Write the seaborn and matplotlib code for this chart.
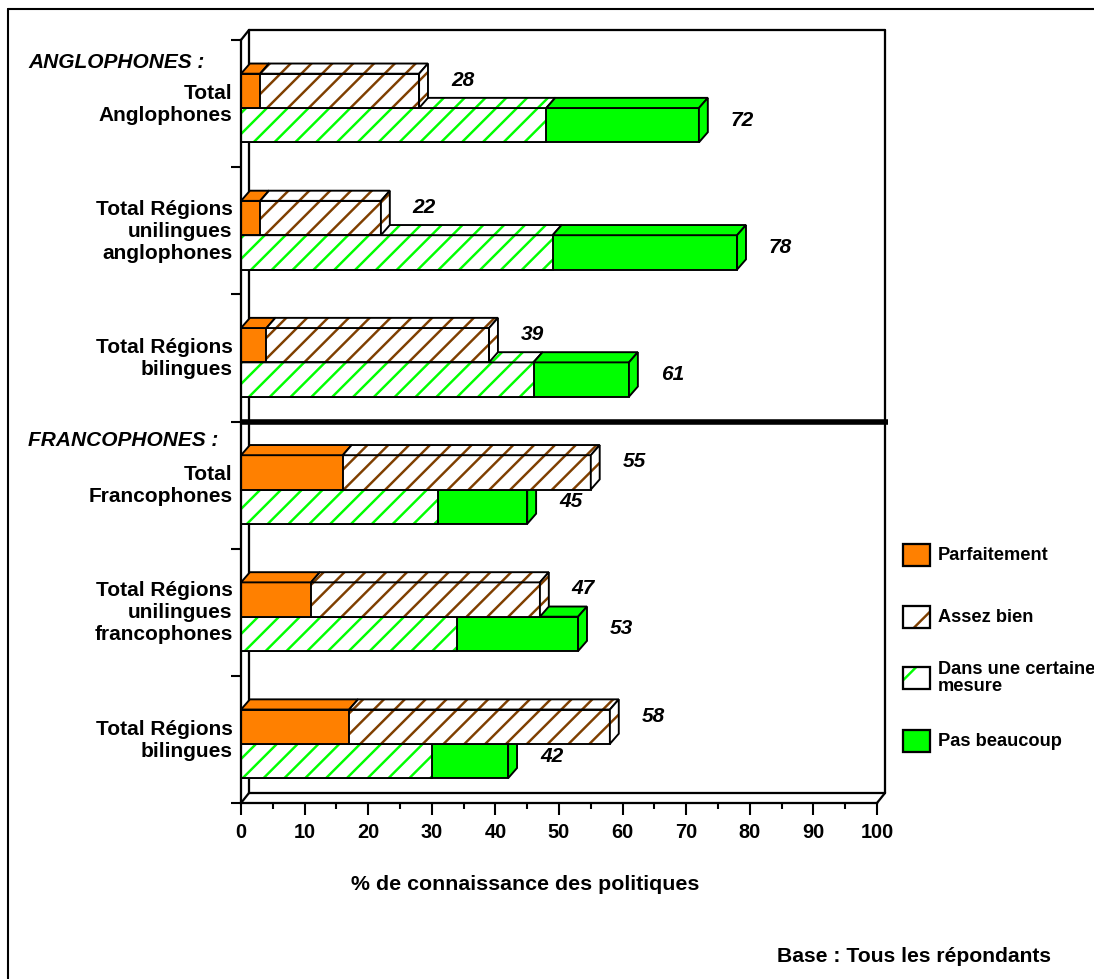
import matplotlib
matplotlib.use("Agg")
import matplotlib.pyplot as plt
from matplotlib.patches import Polygon, Rectangle
from matplotlib.lines import Line2D
import numpy as np
import pandas as pd
import seaborn as sns

# --- data -------------------------------------------------------------
groupes = ["ang_total", "ang_unil", "ang_bil", "fra_total", "fra_unil", "fra_bil"]
etiquettes = ["Total\nAnglophones",
              "Total Régions\nunilingues\nanglophones",
              "Total Régions\nbilingues",
              "Total\nFrancophones",
              "Total Régions\nunilingues\nfrancophones",
              "Total Régions\nbilingues"]
sections = ["ANGLOPHONES :", "FRANCOPHONES :"]
series = ["Parfaitement", "Assez bien", "Dans une certaine\nmesure", "Pas beaucoup"]

parfaitement = [3, 3, 4, 16, 11, 17]
assez_bien = [25, 19, 35, 39, 36, 41]
certaine_mesure = [48, 49, 46, 31, 34, 30]
pas_beaucoup = [24, 29, 15, 14, 19, 12]

xticks = list(range(0, 101, 10))
titre_x = "% de connaissance des politiques"
base = "Base : Tous les répondants"

ORANGE = "#FF8000"
BRUN = "#7F3F00"
VERT = "#00FF00"
HACHURE = "//"

# --- style ------------------------------------------------------------
sns.set_style("white")
plt.rcParams["font.family"] = ["Liberation Sans", "DejaVu Sans"]
plt.rcParams["hatch.linewidth"] = 1.4
plt.rcParams["text.color"] = "black"
plt.rcParams["xtick.color"] = "black"
plt.rcParams["ytick.color"] = "black"
plt.rcParams["axes.labelcolor"] = "black"

DPI = 125
W, H = 1094, 979
fig = plt.figure(figsize=(W / DPI, H / DPI), dpi=DPI)


def fx(px):
    return px / W


def fy(py):
    return 1 - py / H


ax = fig.add_axes([fx(241), fy(803), (877 - 241) / W, (803 - 40) / H])

haut = np.array(parfaitement) + np.array(assez_bien)
bas = np.array(certaine_mesure) + np.array(pas_beaucoup)

totaux = pd.DataFrame({"groupe": groupes * 2,
                       "barre": ["haut"] * 6 + ["bas"] * 6,
                       "valeur": list(haut) + list(bas)})
premiers = pd.DataFrame({"groupe": groupes * 2,
                         "barre": ["haut"] * 6 + ["bas"] * 6,
                         "valeur": parfaitement + certaine_mesure})

kw = dict(x="valeur", y="groupe", hue="barre", order=groupes,
          hue_order=["haut", "bas"], orient="h", dodge=True, width=0.54,
          errorbar=None, legend=False, saturation=1, ax=ax,
          palette={"haut": "white", "bas": VERT})
sns.barplot(data=totaux, **kw)
sns.barplot(data=premiers, **kw)
c_haut_tot, c_bas_tot, c_haut_p, c_bas_d = ax.containers[:4]

LW = 1.1
DX, DY = 1.4, 0.08  # bar depth (x in %, y in category units)


def peindre(patch, kind, z):
    patch.set_zorder(z)
    if kind in ("hachure_brun", "hachure_vert"):
        col = BRUN if kind == "hachure_brun" else VERT
        patch.set_facecolor("white")
        patch.set_edgecolor(col)
        patch.set_hatch(HACHURE)
        patch.set_linewidth(0)
        ax.add_patch(Rectangle(patch.get_xy(), patch.get_width(), patch.get_height(),
                               fill=False, edgecolor="black", lw=LW, zorder=z + 0.01))
    else:
        patch.set_facecolor(kind)
        patch.set_edgecolor("black")
        patch.set_linewidth(LW)


def face(xy, kind, z):
    if kind in ("hachure_brun", "hachure_vert"):
        col = BRUN if kind == "hachure_brun" else VERT
        ax.add_patch(Polygon(xy, closed=True, facecolor="white", edgecolor=col,
                             hatch=HACHURE, lw=0, zorder=z))
        ax.add_patch(Polygon(xy, closed=True, fill=False, edgecolor="black",
                             lw=LW, zorder=z + 0.01))
    else:
        ax.add_patch(Polygon(xy, closed=True, facecolor=kind, edgecolor="black",
                             lw=LW, zorder=z))


def barre_3d(p_tot, p_in, kind_in, kind_tot, z):
    peindre(p_tot, kind_tot, z)
    peindre(p_in, kind_in, z + 0.1)
    yt = p_tot.get_y()
    yb = yt + p_tot.get_height()
    x1 = p_in.get_width()
    x2 = p_tot.get_width()
    face([(0, yt), (x1, yt), (x1 + DX, yt - DY), (DX, yt - DY)], kind_in, z + 0.2)
    face([(x1, yt), (x2, yt), (x2 + DX, yt - DY), (x1 + DX, yt - DY)], kind_tot, z + 0.3)
    face([(x2, yt), (x2, yb), (x2 + DX, yb - DY), (x2 + DX, yt - DY)], kind_tot, z + 0.4)


for i in range(len(groupes)):
    barre_3d(c_bas_tot[i], c_bas_d[i], "hachure_vert", VERT, 2)
    barre_3d(c_haut_tot[i], c_haut_p[i], ORANGE, "hachure_brun", 3)
    ax.text(haut[i] + 5, i - 0.219, str(haut[i]), fontsize=12, fontweight="bold",
            fontstyle="italic", ha="left", va="center", zorder=6)
    ax.text(bas[i] + 5, i + 0.096, str(bas[i]), fontsize=12, fontweight="bold",
            fontstyle="italic", ha="left", va="center", zorder=6)
    ax.text(-1.3, i - 0.03, etiquettes[i], fontsize=12, fontweight="bold",
            ha="right", va="center", multialignment="right", clip_on=False)

# --- axes and 3D frame --------------------------------------------------
T, B = -0.535, 5.465
ax.set_xlim(0, 100)
ax.set_ylim(B, T)
DXF, DYF = 1.26, 0.079

ax.set_xticks(xticks)
ax.set_xticklabels([str(t) for t in xticks], fontsize=11.5, fontweight="bold")
ax.set_xticks(range(5, 100, 10), minor=True)
ax.set_yticks([i + T for i in range(7)])
ax.set_yticklabels([])
ax.tick_params(axis="x", which="major", direction="out", length=7, width=1.2,
               pad=4.5, colors="black", bottom=True)
ax.tick_params(axis="x", which="minor", direction="out", length=3.5, width=1.2,
               bottom=True)
ax.tick_params(axis="y", direction="out", length=6, width=1.2, left=True)
ax.set_xlabel("")
ax.set_ylabel("")
for s in ("top", "right"):
    ax.spines[s].set_visible(False)
for s in ("left", "bottom"):
    ax.spines[s].set_color("black")
    ax.spines[s].set_linewidth(1.3)
    ax.spines[s].set_zorder(7)

cadre = [
    ([DXF, DXF], [T - DYF, B - DYF]),
    ([DXF, 100 + DXF], [T - DYF, T - DYF]),
    ([100 + DXF, 100 + DXF], [T - DYF, B - DYF]),
    ([DXF, 100 + DXF], [B - DYF, B - DYF]),
    ([0, DXF], [T, T - DYF]),
    ([0, DXF], [B, B - DYF]),
    ([100, 100 + DXF], [B, B - DYF]),
]
for xs, ys in cadre:
    ax.plot(xs, ys, color="black", lw=1.3, zorder=1, clip_on=False)

# separator between the two language groups
ax.plot([0, 101.7], [3 + T, 3 + T], color="black", lw=3.2, zorder=8,
        clip_on=False, solid_capstyle="butt")

# --- figure texts -------------------------------------------------------
fig.text(fx(28), fy(62), sections[0], fontsize=12, fontweight="bold",
         fontstyle="italic", ha="left", va="center")
fig.text(fx(28), fy(441), sections[1], fontsize=12, fontweight="bold",
         fontstyle="italic", ha="left", va="center")
fig.text(fx(525), fy(885), titre_x, fontsize=12.3, fontweight="bold",
         ha="center", va="center")
fig.text(fx(777), fy(957), base, fontsize=12.2, fontweight="bold",
         ha="left", va="center")

# --- legend -------------------------------------------------------------
styles = [ORANGE, "hachure_brun", "hachure_vert", VERT]
leg_y = [555, 617, 678, 741]
for lab, kind, yc in zip(series, styles, leg_y):
    xy = (fx(903), fy(yc + 11))
    w, h = 27 / W, 22 / H
    if kind.startswith("hachure"):
        col = BRUN if kind == "hachure_brun" else VERT
        fig.add_artist(Rectangle(xy, w, h, transform=fig.transFigure,
                                 facecolor="white", edgecolor=col, hatch="/", lw=0))
        fig.add_artist(Rectangle(xy, w, h, transform=fig.transFigure,
                                 fill=False, edgecolor="black", lw=1.3))
    else:
        fig.add_artist(Rectangle(xy, w, h, transform=fig.transFigure,
                                 facecolor=kind, edgecolor="black", lw=1.3))
    fig.text(fx(938), fy(yc), lab, fontsize=10.5, fontweight="bold",
             ha="left", va="center", linespacing=1.05)

# outer border
fig.add_artist(Line2D([fx(8), 1.0], [fy(9), fy(9)], transform=fig.transFigure,
                      color="black", lw=1.2))
fig.add_artist(Line2D([fx(8), fx(8)], [fy(9), 0.0], transform=fig.transFigure,
                      color="black", lw=1.2))

fig.savefig("out.png", dpi=DPI)
